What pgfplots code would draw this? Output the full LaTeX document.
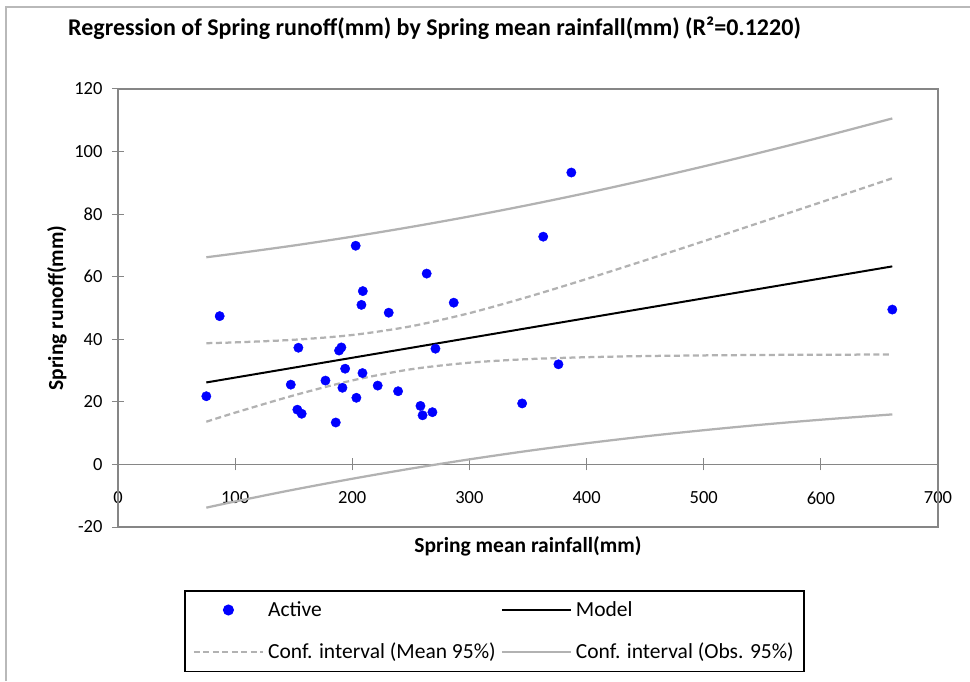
\documentclass[border=0pt]{standalone}
\usepackage{pgfplots}
\pgfplotsset{compat=1.18}
\usepackage{fontspec}
\setmainfont{Carlito}
\definecolor{axisgray}{RGB}{134,134,134}
\definecolor{cigray}{RGB}{178,178,178}
\definecolor{bordergray}{RGB}{185,185,185}
\definecolor{ptblue}{RGB}{0,0,255}
\pgfplotsset{
  legline/.style={legend image code/.code={\draw[##1] (0pt,0pt) -- (69pt,0pt);}},
  legmark/.style={legend image code/.code={\draw[mark repeat=2,mark phase=2,##1] plot coordinates {(0pt,0pt)(34.5pt,0pt)(69pt,0pt)};}},
}
\begin{document}
\begin{tikzpicture}[x=1pt,y=1pt]
\path[use as bounding box] (0,0) rectangle (970,681);
\draw[bordergray, line width=1.5pt] (6,0) -- (6,674) -- (970,674);
\node[anchor=west, inner sep=0pt, font=\fontsize{24}{28}\selectfont\bfseries] at (68,653) {Regression of Spring runoff(mm) by Spring mean rainfall(mm) (R²=0.1220)};
\begin{axis}[
  at={(118pt,154pt)}, anchor=south west,
  scale only axis, width=820pt, height=438pt,
  xmin=0, xmax=700, ymin=-20, ymax=120,
  axis x line*=middle, axis y line*=left,
  hide obscured x ticks=false, hide obscured y ticks=false,
  xtick={0,100,...,700}, ytick={-20,0,...,120},
  tick align=center, major tick length=12pt,
  every tick/.style={axisgray, line width=1pt},
  axis line style={axisgray, line width=1.2pt},
  /pgf/number format/assume math mode=true,
  tick label style={font=\fontsize{18.5}{21}\selectfont},
  xticklabel style={yshift=-18pt},
  yticklabel style={xshift=-6pt},
  xlabel={\bfseries Spring mean rainfall(mm)},
  ylabel={\bfseries Spring runoff(mm)},
  x label style={at={(axis description cs:0.5,-0.0434)}, anchor=center, font=\fontsize{21.5}{24}\selectfont},
  y label style={at={(axis description cs:-0.0744,0.5)}, anchor=center, rotate=0, font=\fontsize{21.5}{24}\selectfont},
  legend columns=2,
  legend cell align=left,
  legend style={at={(axis description cs:0.0805,-0.1438)}, anchor=north west,
    draw=black, line width=1.6pt, font=\fontsize{21.5}{25}\selectfont,
    inner xsep=8pt, inner ysep=9pt,
    /tikz/every even column/.append style={column sep=3pt},
    /tikz/every odd column/.append style={column sep=2pt},
    row sep=21pt},
  clip=false,
]
\draw[axisgray, line width=1.2pt] (rel axis cs:0,0) rectangle (rel axis cs:1,1);

\addlegendimage{only marks, mark=*, mark size=4.7pt, draw=ptblue, fill=ptblue, legmark}
\addlegendentry{Active}
\addlegendimage{black, line width=2pt, legline}
\addlegendentry{Model}
\addlegendimage{cigray, line width=2.25pt, dash pattern=on 6pt off 3.5pt, legline}
\addlegendentry{Conf. interval (Mean 95\%)}
\addlegendimage{cigray, line width=2.25pt, legline}
\addlegendentry{Conf. interval (Obs. 95\%)}

% observation confidence interval
\addplot[cigray, line width=2.25pt, smooth, forget plot] coordinates {
(75.4,66.22) (100,67.40) (150,69.97) (200,72.80) (250,75.90) (300,79.26) (350,82.89) (400,86.77) (450,90.91) (500,95.26) (550,99.82) (600,104.57) (661,110.59)};
\addplot[cigray, line width=2.25pt, smooth, forget plot] coordinates {
(75.4,-13.82) (100,-11.84) (150,-8.07) (200,-4.58) (250,-1.34) (300,1.62) (350,4.33) (400,6.77) (450,8.97) (500,10.94) (550,12.72) (600,14.29) (661,15.99)};
% mean confidence interval
\addplot[cigray, line width=2.25pt, dash pattern=on 6pt off 3.5pt, smooth, forget plot] coordinates {
(75.4,38.75) (100,39.01) (150,39.84) (200,41.37) (250,44.15) (300,48.36) (350,53.56) (400,59.27) (450,65.24) (500,71.35) (550,77.55) (600,83.79) (661,91.46)};
\addplot[cigray, line width=2.25pt, dash pattern=on 6pt off 3.5pt, smooth, forget plot] coordinates {
(75.4,13.65) (100,16.55) (150,22.06) (200,26.85) (250,30.41) (300,32.52) (350,33.66) (400,34.27) (450,34.64) (500,34.85) (550,34.99) (600,35.07) (661,35.12)};
% model
\addplot[black, line width=2pt, forget plot] coordinates {(75.4,26.2) (661,63.3)};
% observations
\addplot[only marks, mark=*, mark size=4.7pt, draw=ptblue, fill=ptblue, forget plot] coordinates {
(75.4,21.8) (86.8,47.4) (147.5,25.5) (153.1,17.5) (154.0,37.3) (156.8,16.2)
(177.1,26.8) (185.9,13.4) (188.7,36.4) (190.7,37.4) (191.6,24.5) (193.9,30.6)
(202.9,69.9) (203.5,21.3) (207.8,51.0) (208.7,29.2) (209.0,55.4) (221.7,25.2)
(231.1,48.5) (239.1,23.4) (258.2,18.7) (260.0,15.7) (263.5,61.0) (268.4,16.7)
(271.0,37.0) (286.6,51.7) (345,19.5) (363,72.8) (376,32.0) (387,93.3) (661,49.5)};
\end{axis}
\end{tikzpicture}
\end{document}
